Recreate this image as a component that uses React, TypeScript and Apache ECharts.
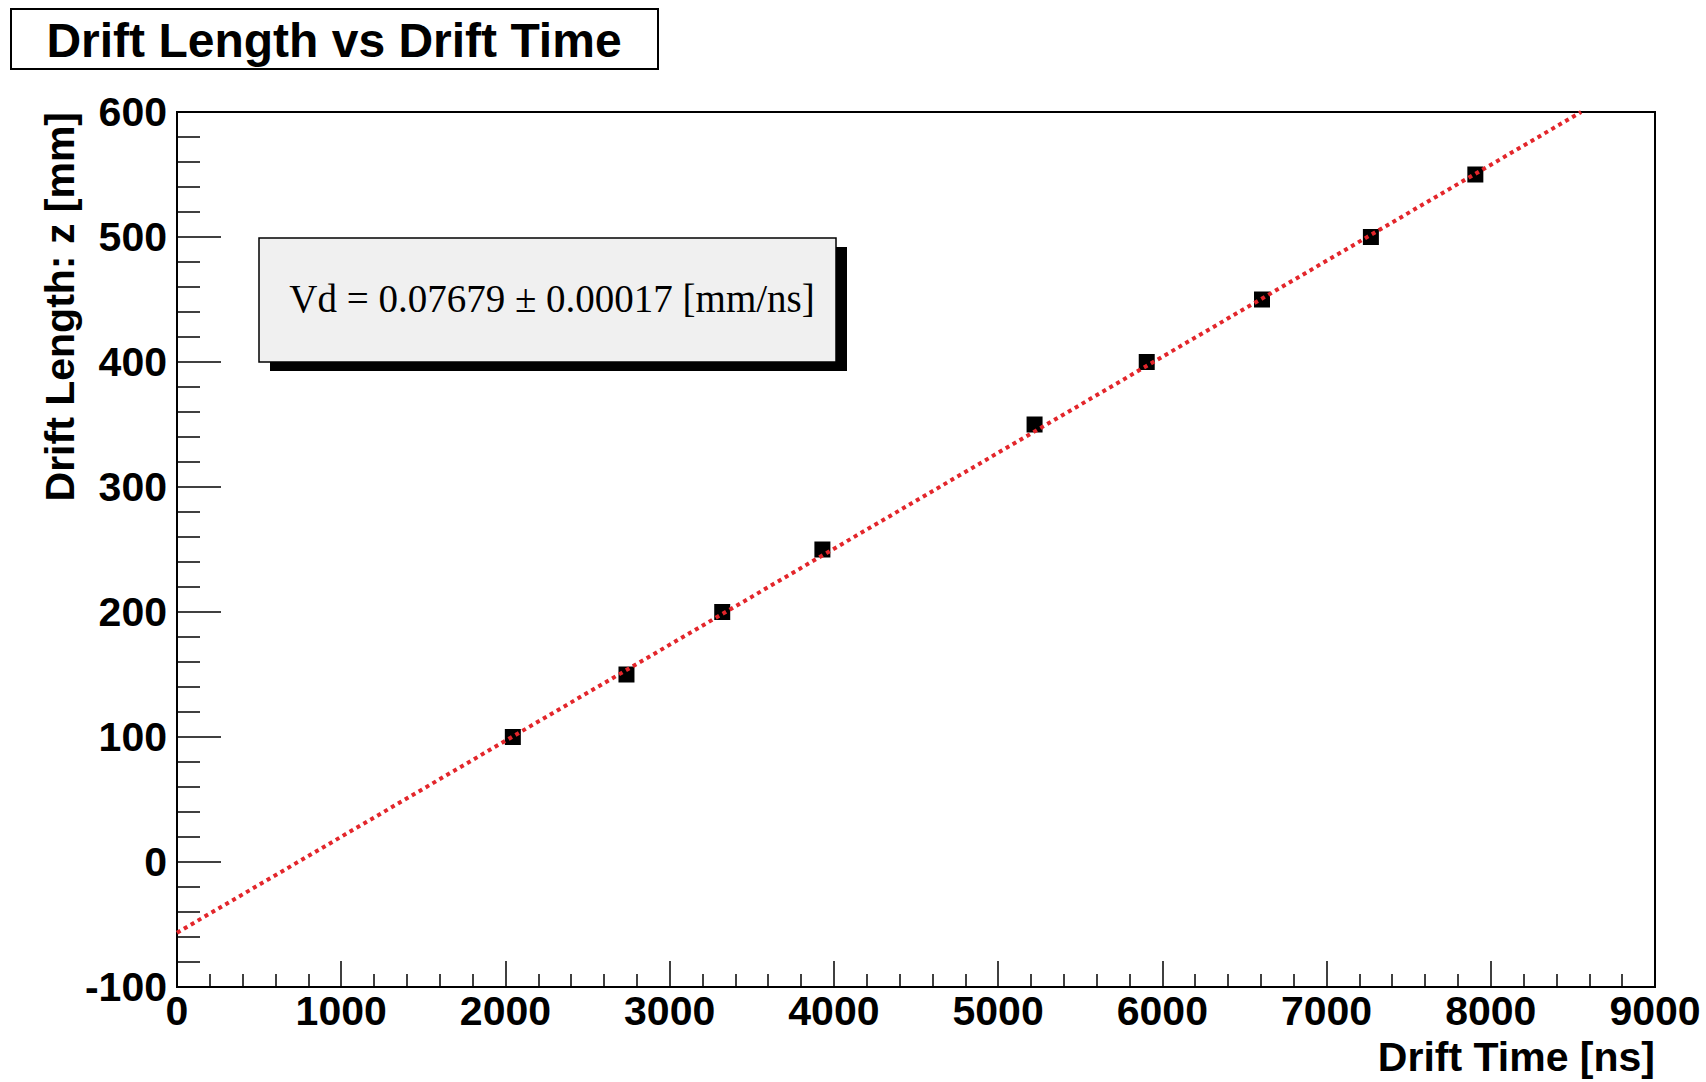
import React, { useEffect, useRef } from "react";
import * as echarts from "echarts";

const driftTime = [2045, 2737, 3320, 3930, 5222, 5905, 6607, 7270, 7906];
const driftLength = [100, 150, 200, 250, 350, 400, 450, 500, 550];
const fitX = [0, 8550];
const fitY = [-56.6, 600];
const xTicks = { min: 0, max: 9000, interval: 1000 };
const yTicks = { min: -100, max: 600, interval: 100 };
const titleText = "Drift Length vs Drift Time";
const fitText = "Vd = 0.07679 \u00b1 0.00017 [mm/ns]";
const xName = "Drift Time [ns]";
const yName = "Drift Length: z [mm]";

const SANS = "'Liberation Sans', Arial, Helvetica, sans-serif";
const SERIF = "'Liberation Serif', 'Times New Roman', serif";

export default function App() {
  const ref = useRef<HTMLDivElement>(null);
  useEffect(() => {
    if (!ref.current) return;
    const chart = echarts.init(ref.current, null, { renderer: "svg" });
    const gridLeft = 177, gridTop = 112, gridW = 1478, gridH = 875;
    const labelStyle = { color: "#000", fontFamily: SANS, fontWeight: "bold" as const, fontSize: 41 };
    chart.setOption({
      animation: false,
      backgroundColor: "#fff",
      grid: {
        left: gridLeft, top: gridTop, width: gridW, height: gridH,
        show: true, borderColor: "#000", borderWidth: 2, backgroundColor: "transparent",
      },
      xAxis: {
        type: "value", min: xTicks.min, max: xTicks.max, interval: xTicks.interval,
        axisLine: { show: true, onZero: false, lineStyle: { color: "#000", width: 2 } },
        axisTick: { show: true, inside: true, length: 26, lineStyle: { color: "#000", width: 1.5 } },
        minorTick: { show: true, splitNumber: 5, length: 13, lineStyle: { color: "#000", width: 1.5 } },
        splitLine: { show: false },
        axisLabel: {
          ...labelStyle, margin: 3, showMinLabel: true, showMaxLabel: true,
          formatter: (v: number) => String(v),
        },
      },
      yAxis: {
        type: "value", min: yTicks.min, max: yTicks.max, interval: yTicks.interval,
        axisLine: { show: true, onZero: false, lineStyle: { color: "#000", width: 2 } },
        axisTick: { show: true, inside: true, length: 44, lineStyle: { color: "#000", width: 1.5 } },
        minorTick: { show: true, splitNumber: 5, length: 23, lineStyle: { color: "#000", width: 1.5 } },
        splitLine: { show: false },
        axisLabel: {
          ...labelStyle, margin: 10, showMinLabel: true, showMaxLabel: true,
          formatter: (v: number) => String(v),
        },
      },
      series: [
        {
          type: "scatter",
          data: driftTime.map((t, i) => [t, driftLength[i]]),
          symbol: "rect",
          symbolSize: 16,
          itemStyle: { color: "#000", opacity: 1 },
          z: 2,
        },
        {
          type: "line",
          data: fitX.map((x, i) => [x, fitY[i]]),
          showSymbol: false,
          symbol: "none",
          lineStyle: { color: "#e3262b", width: 4, type: [4, 4] },
          z: 3,
        },
      ],
      graphic: [
        {
          type: "rect", shape: { x: 11, y: 9, width: 647, height: 60 },
          style: { fill: "#fff", stroke: "#000", lineWidth: 2 }, z: 10,
        },
        {
          type: "text", x: 334, y: 40, z: 11,
          style: { text: titleText, fill: "#000", font: `bold 48px ${SANS}`, align: "center", verticalAlign: "middle" },
        },
        {
          type: "rect", shape: { x: 270, y: 247, width: 577, height: 124 },
          style: { fill: "#000" }, z: 10,
        },
        {
          type: "rect", shape: { x: 259, y: 238, width: 577, height: 124 },
          style: { fill: "#f0f0f0", stroke: "#000", lineWidth: 1.5 }, z: 11,
        },
        {
          type: "text", x: 552, y: 298, z: 12,
          style: { text: fitText, fill: "#000", font: `39px ${SERIF}`, align: "center", verticalAlign: "middle" },
        },
        {
          type: "text", x: 1655, y: 1057, z: 10,
          style: { text: xName, fill: "#000", font: `bold 41px ${SANS}`, align: "right", verticalAlign: "middle" },
        },
        {
          type: "text", x: 60, y: 112, rotation: Math.PI / 2, z: 10,
          style: { text: yName, fill: "#000", font: `bold 41px ${SANS}`, align: "right", verticalAlign: "middle" },
        },
      ],
    });
    return () => chart.dispose();
  }, []);
  return (
    <div
      ref={ref}
      style={{ position: "fixed", left: 0, top: 0, width: 1706, height: 1082, background: "#fff" }}
    />
  );
}
